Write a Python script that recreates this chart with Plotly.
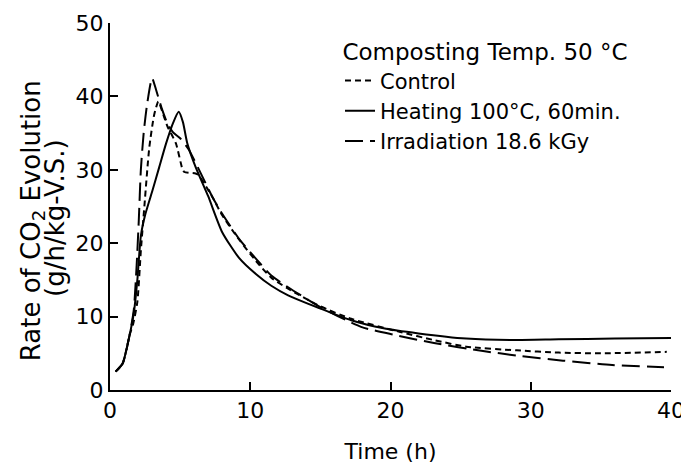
import plotly.graph_objects as go

# Control (short dash)
t_control = [0.4, 0.9, 1.4, 1.65, 1.95, 2.2, 2.45, 2.8, 3.15, 3.45, 3.8, 4.1, 4.7, 5.15, 5.3, 6.1, 6.3,
             7.3, 8.0, 9.2, 10.4, 11.5, 12.7, 15.0, 17.2, 20.7, 23.1, 25.4, 29.0, 32.0, 35.0, 39.7]
v_control = [2.5, 3.6, 7.5, 9.0, 12.0, 19.0, 25.0, 33.0, 37.5, 39.3, 37.5, 35.9, 33.6, 30.2, 29.7, 29.5, 29.3,
             26.3, 23.8, 20.5, 17.6, 15.3, 13.8, 11.4, 9.7, 7.9, 6.8, 5.9, 5.4, 5.1, 5.0, 5.2]

# Heating 100°C, 60 min (solid)
t_heating = [0.4, 0.9, 1.4, 1.7, 1.95, 2.2, 2.5, 3.0, 3.5, 4.0, 4.5, 4.9, 5.2, 5.5, 6.1, 7.0,
             8.0, 9.2, 10.4, 11.5, 12.7, 15.0, 17.2, 19.5, 22.0, 25.4, 28.7, 32.0, 36.0, 40.0]
v_heating = [2.5, 3.6, 7.5, 10.5, 15.0, 21.0, 23.8, 27.0, 30.3, 33.6, 36.4, 37.9, 36.5, 33.7, 30.4, 26.4,
             21.5, 18.0, 15.8, 14.2, 12.9, 11.1, 9.5, 8.4, 7.7, 7.0, 6.8, 6.9, 7.0, 7.1]

# Irradiation 18.6 kGy (long dash)
t_irrad = [0.4, 0.9, 1.4, 1.7, 1.9, 2.05, 2.2, 2.4, 2.65, 3.0, 3.3, 3.7, 4.1, 4.5, 5.0, 5.6, 6.3,
           7.3, 8.0, 9.2, 10.4, 11.5, 12.7, 15.0, 17.9, 20.3, 23.1, 26.6, 29.0, 32.3, 35.8, 39.5]
v_irrad = [2.5, 3.6, 7.5, 11.0, 17.0, 23.0, 30.0, 35.0, 39.0, 42.5, 40.8, 38.3, 36.3, 35.1, 34.3, 32.8, 30.2,
           26.3, 24.0, 20.6, 17.9, 15.6, 14.0, 11.3, 8.6, 7.5, 6.4, 5.3, 4.7, 4.0, 3.4, 3.1]

ytitle_lines = ["Rate of CO<sub>2</sub> Evolution", "(g/h/kg-V.S.)"]

fnt = "DejaVu Sans"

fig = go.Figure()
fig.add_trace(go.Scatter(x=t_control, y=v_control, mode="lines", name="Control",
                         line=dict(color="black", width=2, dash="6px,4px", shape="spline", smoothing=0.6)))
fig.add_trace(go.Scatter(x=t_heating, y=v_heating, mode="lines", name="Heating 100°C, 60min.",
                         line=dict(color="black", width=2, shape="spline", smoothing=0.6)))
fig.add_trace(go.Scatter(x=t_irrad, y=v_irrad, mode="lines", name="Irradiation 18.6 kGy",
                         line=dict(color="black", width=2, dash="18px,7px", shape="spline", smoothing=0.6)))

# y-axis title as two tight lines
fig.add_annotation(text=ytitle_lines[0], xref="paper", yref="paper", x=-0.139, y=0.46,
                   xanchor="center", yanchor="middle",
                   textangle=-90, showarrow=False, font=dict(size=26))
fig.add_annotation(text=ytitle_lines[1], xref="paper", yref="paper", x=-0.099, y=0.47,
                   xanchor="center", yanchor="middle",
                   textangle=-90, showarrow=False, font=dict(size=26))

# page body adds an 8px margin, so the figure is 8px smaller than the window
fig.update_layout(
    width=681, height=456,
    margin=dict(l=102, r=18, t=15, b=74),
    paper_bgcolor="white", plot_bgcolor="white",
    font=dict(family=fnt, size=21, color="black"),
    legend=dict(x=0.41, y=0.98, xanchor="left", yanchor="top",
                bgcolor="rgba(0,0,0,0)", font=dict(size=21),
                title=dict(text="Composting Temp. 50 °C", side="top center", font=dict(size=23)),
                tracegroupgap=0),
    xaxis=dict(range=[0, 40], tickvals=[0, 10, 20, 30, 40], showgrid=False, zeroline=False,
               showline=True, linecolor="black", linewidth=2, automargin=False,
               ticklabeloverflow="allow",
               ticks="inside", ticklen=8, tickwidth=2, tickcolor="black",
               tickfont=dict(size=22),
               title=dict(text="Time (h)", font=dict(size=22), standoff=22)),
    yaxis=dict(range=[0, 50], tickvals=[0, 10, 20, 30, 40, 50], showgrid=False, zeroline=False,
               showline=True, linecolor="black", linewidth=2, automargin=False,
               ticks="inside", ticklen=8, tickwidth=2, tickcolor="black",
               tickfont=dict(size=22)),
)

fig.write_html("out.html")
